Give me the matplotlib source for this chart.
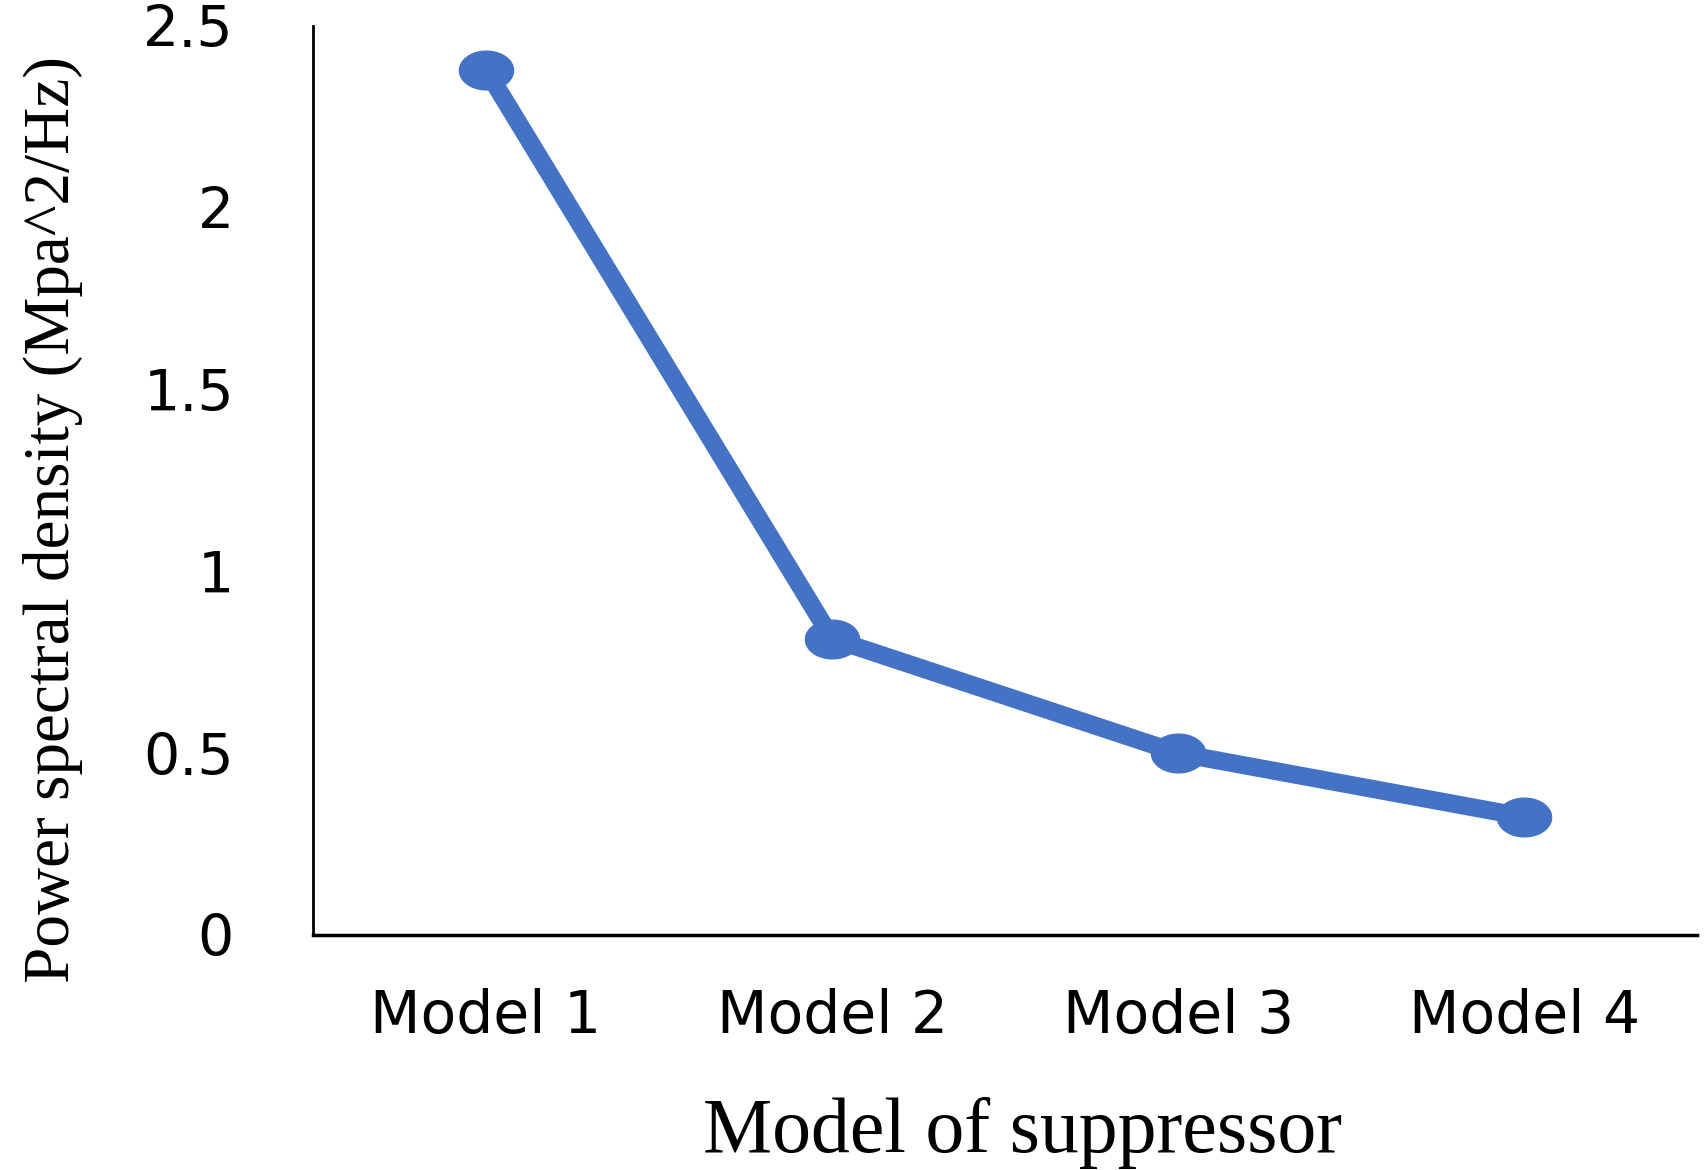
import numpy as np
import matplotlib
matplotlib.use('Agg')
import matplotlib.pyplot as plt
from matplotlib.path import Path

models = ['Model 1', 'Model 2', 'Model 3', 'Model 4']
psd = [2.38, 0.815, 0.50, 0.325]
yticks = [0, 0.5, 1, 1.5, 2, 2.5]
ytick_labels = ['0', '0.5', '1', '1.5', '2', '2.5']

# slightly flattened circle, like the stretched original
t = np.linspace(0, 2*np.pi, 60)
ellipse = Path(np.column_stack([1.4*np.cos(t), np.sin(t)]), closed=True)

fig = plt.figure(figsize=(17.04, 11.7), dpi=100)
ax = fig.add_axes([0.1837, 0.2009, 0.8123, 0.7769])

x = np.arange(len(models))
ax.plot(x, psd, color='#4472C4', lw=13, marker=ellipse, ms=39,
        solid_capstyle='round', solid_joinstyle='round')

ax.set_xlim(-0.5, 3.5)
ax.set_ylim(0, 2.5)
ax.set_xticks(x)
ax.set_xticklabels(models, fontsize=42, family='DejaVu Sans')
ax.set_yticks(yticks)
ax.set_yticklabels(ytick_labels, fontsize=41, family='DejaVu Sans')
ax.tick_params(axis='x', length=0, pad=38)
ax.tick_params(axis='y', length=0, pad=57)

for s in ['top', 'right']:
    ax.spines[s].set_visible(False)
ax.spines['left'].set_linewidth(2)
ax.spines['bottom'].set_linewidth(2.5)

fig.text(0.031, 0.556, 'Power spectral density (Mpa^2/Hz)', rotation=90,
         ha='center', va='center', fontsize=47, family='Liberation Serif')
fig.text(0.6, 0.032, 'Model of suppressor', ha='center', va='center',
         fontsize=56, family='Liberation Serif')

fig.savefig('out.png', dpi=100)
